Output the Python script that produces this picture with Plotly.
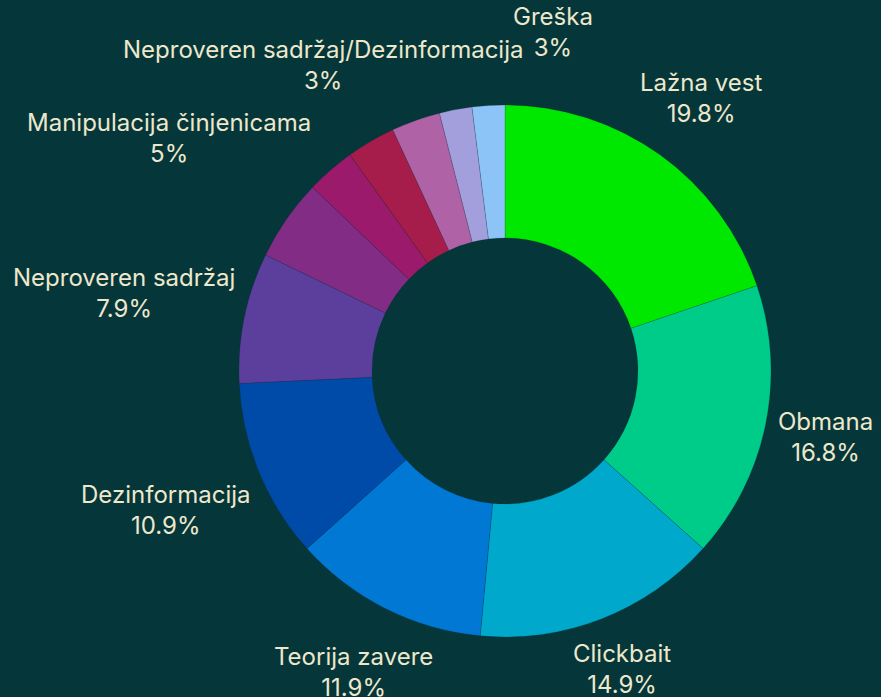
import math
import plotly.graph_objects as go

# ---- data ----
categories = [
    "Lažna vest", "Obmana", "Clickbait", "Teorija zavere", "Dezinformacija",
    "Neproveren sadržaj", "Manipulacija činjenicama", "Ostalo 1", "Greška",
    "Neproveren sadržaj/Dezinformacija", "Ostalo 2", "Ostalo 3",
]
values = [20, 17, 15, 12, 11, 8, 5, 3, 3, 3, 2, 2]
show_label = [True, True, True, True, True, True, True, False, True, True, False, False]
colors = [
    "#00e800", "#00cc8a", "#00a8cc", "#0078d4", "#004aa8", "#5c3f9d",
    "#832c86", "#9c1a6c", "#a61c4a", "#b062a6", "#a39fdc", "#8cc4f8",
]

# ---- layout constants ----
W, H = 881, 697
BG = "#05363a"
TXT = "#ede8cc"
FONT = "Inter"
FS = 24
CX, CY, R = 505, 371, 266          # pie centre / radius in pixels
GAP = 10                            # gap between ring and label box
HALF_H = 28                         # half height of a 2-line label
# labels moved by collision avoidance (label centre, pixels)
moved = {"Greška": (553, 32), "Neproveren sadržaj/Dezinformacija": (323, 65)}


def est_width(txt):
    """rough text width in pixels at FS"""
    w = 0.0
    for ch in txt:
        if ch in "ijlI.,:;!|' ":
            w += 0.27
        elif ch in "ftr/":
            w += 0.37
        elif ch in "mwMW%":
            w += 0.85
        elif ch in "OGDCQ":
            w += 0.76
        elif ch.isupper():
            w += 0.66
        elif ch.isdigit():
            w += 0.6
        else:
            w += 0.57
    return w * FS


fig = go.Figure(go.Pie(
    labels=categories,
    values=values,
    hole=0.5,
    sort=False,
    direction="clockwise",
    rotation=0,
    marker=dict(colors=colors, line=dict(color="rgba(5,40,45,0.3)", width=0.6)),
    textinfo="none",
    hovertemplate="%{label}: %{percent}<extra></extra>",
    domain=dict(x=[(CX - R) / W, (CX + R) / W],
                y=[(H - CY - R) / H, (H - CY + R) / H]),
    showlegend=False,
))

total = sum(values)
cum = 0
annotations = []
for name, v, show in zip(categories, values, show_label):
    mid = (cum + v / 2) / total * 2 * math.pi
    cum += v
    if not show:
        continue
    pct = round(v / total * 100, 1)
    pct_s = (f"{pct:.1f}".rstrip("0").rstrip(".")) + "%"
    s, c = math.sin(mid), math.cos(mid)
    hw = max(est_width(name), est_width(pct_s)) / 2
    d = R + GAP + hw * abs(s) + HALF_H * abs(c)
    px, py = CX + d * s, CY - d * c
    if name in moved:
        px, py = moved[name]
    annotations.append(dict(
        x=px / W, y=1 - py / H, xref="paper", yref="paper",
        text=f"{name}<br>{pct_s}", showarrow=False,
        xanchor="center", yanchor="middle", align="center",
        font=dict(family=FONT, size=FS, color=TXT),
    ))

fig.update_layout(
    width=W, height=H,
    margin=dict(l=0, r=0, t=0, b=0),
    paper_bgcolor=BG, plot_bgcolor=BG,
    annotations=annotations,
    font=dict(family=FONT, size=FS, color=TXT),
)

fig.write_html("out.html", config={"displayModeBar": False})

# remove the browser's default page margin so the chart fills the window
with open("out.html", encoding="utf-8") as f:
    html = f.read()
html = html.replace("<head>", "<head><style>html,body{margin:0;padding:0;background:%s;}</style>" % BG, 1)
with open("out.html", "w", encoding="utf-8") as f:
    f.write(html)
